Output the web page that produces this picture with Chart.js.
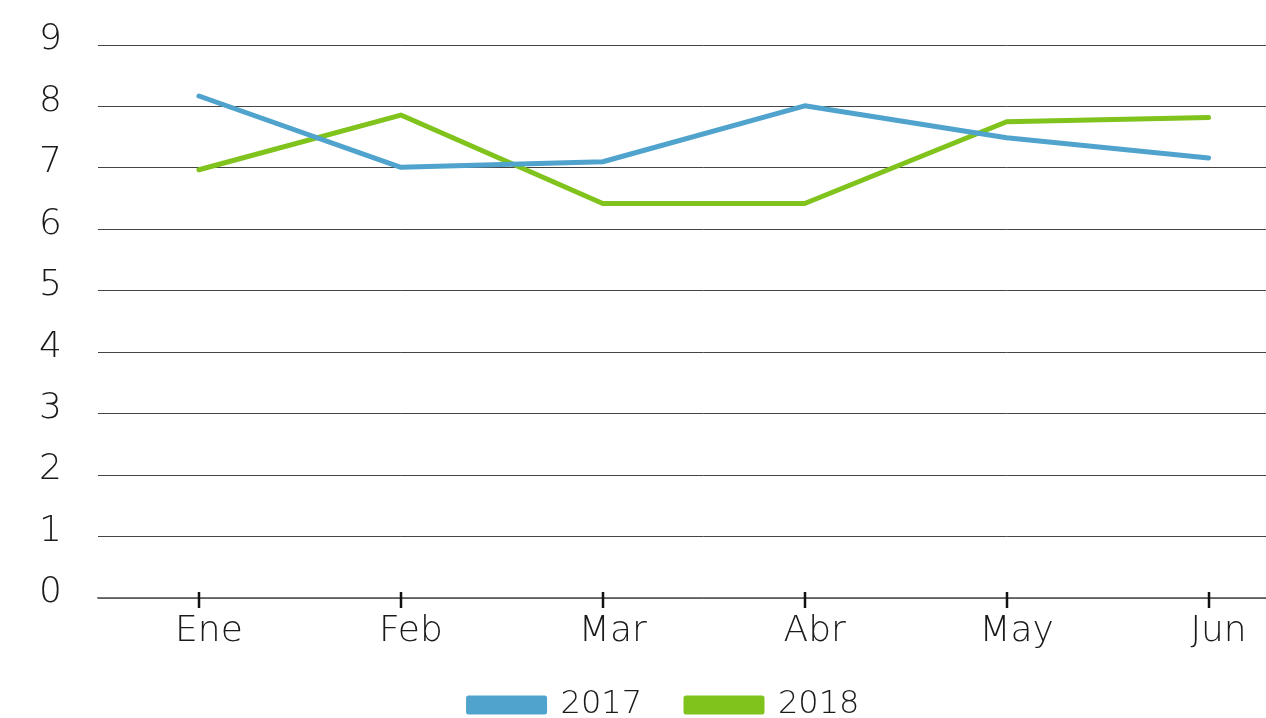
<!DOCTYPE html>
<html>
<head>
<meta charset="utf-8">
<script src="https://cdn.jsdelivr.net/npm/chart.js@4"></script>
<style>
  html, body { margin: 0; padding: 0; background: #fff; overflow: hidden; }
  #wrap { position: absolute; left: 0; top: 0; width: 1312px; height: 718px; }
</style>
</head>
<body>
<div id="wrap"><canvas id="c"></canvas></div>
<script>
const categories = ['Ene', 'Feb', 'Mar', 'Abr', 'May', 'Jun'];
const series2017 = [8.17, 7.01, 7.10, 8.01, 7.49, 7.16];
const series2018 = [6.97, 7.86, 6.42, 6.42, 7.75, 7.82];
const seriesNames = ['2017', '2018'];
const seriesColors = ['#4FA3CD', '#7FC31C'];

const FAMILY = '"DejaVu Sans", sans-serif';
const AXIS_FONT = { family: FAMILY, size: 36, weight: 200 };
const LEGEND_FONT = { family: FAMILY, size: 32, weight: 200 };

const tickMarks = {
  id: 'tickMarks',
  afterLayout(chart) {
    chart.legend.top = chart.chartArea.bottom + 47;
    chart.legend.left += 16;
  },
  afterDraw(chart) {
    const x = chart.scales.x;
    const ctx = chart.ctx;
    const bottom = chart.chartArea.bottom;
    ctx.save();
    ctx.strokeStyle = '#111';
    ctx.lineWidth = 2.5;
    x.ticks.forEach((t, i) => {
      const px = Math.round(x.getPixelForTick(i));
      ctx.beginPath();
      ctx.moveTo(px, bottom - 6);
      ctx.lineTo(px, bottom + 10);
      ctx.stroke();
    });
    ctx.restore();
  }
};

const chart = new Chart(document.getElementById('c'), {
  type: 'line',
  data: {
    labels: categories,
    datasets: [series2017, series2018].map((d, i) => ({
      label: seriesNames[i],
      data: d,
      borderColor: seriesColors[i],
      backgroundColor: seriesColors[i],
      borderWidth: 5,
      borderCapStyle: 'round',
      borderJoinStyle: 'round',
      pointRadius: 0,
      tension: 0,
      fill: false
    }))
  },
  options: {
    responsive: true,
    maintainAspectRatio: false,
    animation: false,
    layout: { padding: { top: 45, right: 0, left: 0, bottom: 0 } },
    plugins: {
      title: { display: false },
      tooltip: { enabled: false },
      legend: {
        position: 'bottom',
        labels: {
          boxWidth: 76,
          boxHeight: 14,
          padding: 44,
          color: '#1a1a1a',
          font: LEGEND_FONT
        }
      }
    },
    scales: {
      x: {
        offset: true,
        grid: { display: true, drawOnChartArea: false, drawTicks: false },
        border: { display: true, color: '#777', width: 1.5 },
        ticks: { color: '#1a1a1a', font: AXIS_FONT, padding: 12, labelOffset: 10, maxRotation: 0 },
        afterFit(s) { s.height = 62; s.paddingLeft = 0; s.paddingRight = 0; }
      },
      y: {
        min: 0, max: 9,
        grid: { color: '#444', lineWidth: 1, drawTicks: false },
        border: { display: false },
        ticks: { stepSize: 1, color: '#1a1a1a', font: AXIS_FONT, padding: 36, labelOffset: -5 },
        afterFit(s) { s.width = 98; s.paddingTop = 0; s.paddingBottom = 0; }
      }
    }
  },
  plugins: [tickMarks]
});
const origFit = chart.legend.fit;
chart.legend.fit = function () { origFit.call(this); this.height = 58; };
chart.update();
</script>
</body>
</html>
